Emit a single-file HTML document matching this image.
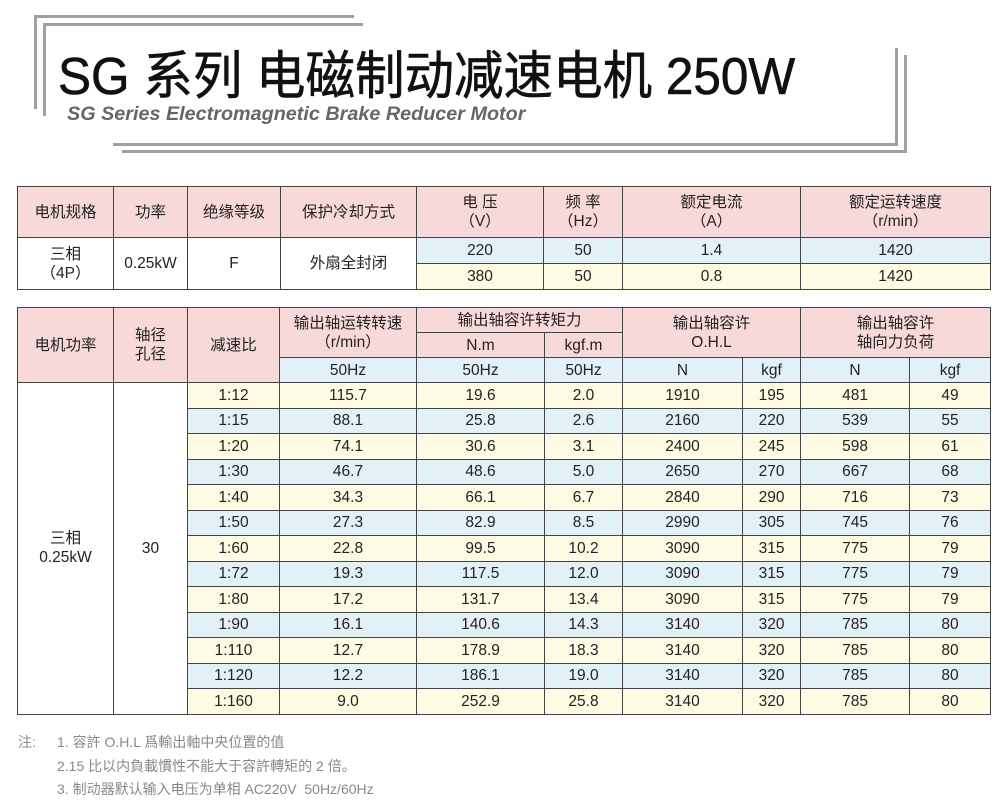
<!DOCTYPE html>
<html><head><meta charset="utf-8"><style>
body{margin:0;width:1003px;height:808px;background:#fff;position:relative;overflow:hidden;font-family:"Liberation Sans","Noto Sans CJK SC",sans-serif;color:#222}
.l{position:absolute;background:#a0a0a0}
.title{position:absolute;left:58px;top:34px;font-size:52px;font-weight:normal;color:#111;white-space:nowrap;-webkit-text-stroke:0.6px #111;transform:scaleX(0.952);transform-origin:0 0}
.sub{position:absolute;left:67px;top:103px;font-size:19.8px;font-weight:bold;font-style:italic;color:#666;white-space:nowrap}
table{position:absolute;left:17px;border-collapse:collapse;table-layout:fixed;font-size:15.5px}
td{border:1.5px solid #444;text-align:center;padding:0;line-height:19px}
.p{background:#f8d9d9}.b{background:#e1f1f7}.y{background:#fdfbe4}.w{background:#fff}
.note{position:absolute;font-size:14px;color:#888;white-space:nowrap}
</style></head><body>
<div class="l" style="left:34px;top:15px;width:320px;height:3px"></div>
<div class="l" style="left:34px;top:15px;width:3px;height:94px"></div>
<div class="l" style="left:43px;top:23px;width:320px;height:3px"></div>
<div class="l" style="left:43px;top:23px;width:3px;height:93px"></div>
<div class="l" style="left:113px;top:143px;width:785px;height:3px"></div>
<div class="l" style="left:895px;top:48px;width:3px;height:98px"></div>
<div class="l" style="left:122px;top:150px;width:785px;height:3px"></div>
<div class="l" style="left:904px;top:55px;width:3px;height:98px"></div>
<div class="title">SG 系列 电磁制动减速电机 250W</div>
<div class="sub">SG Series Electromagnetic Brake Reducer Motor</div>

<table style="top:186px;width:973px">
<colgroup><col style="width:96px"><col style="width:74px"><col style="width:93px"><col style="width:136px"><col style="width:127px"><col style="width:79px"><col style="width:178px"><col style="width:190px"></colgroup>
<tr style="height:51px" class="p"><td>电机规格</td><td>功率</td><td>绝缘等级</td><td>保护冷却方式</td><td>电 压<br>（V）</td><td>频 率<br>（Hz）</td><td>额定电流<br>（A）</td><td>额定运转速度<br>（r/min）</td></tr>
<tr style="height:26px"><td rowspan="2" class="w">三相<br>（4P）</td><td rowspan="2" class="w">0.25kW</td><td rowspan="2" class="w">F</td><td rowspan="2" class="w">外扇全封闭</td><td class="b">220</td><td class="b">50</td><td class="b">1.4</td><td class="b">1420</td></tr>
<tr style="height:26px" class="y"><td>380</td><td>50</td><td>0.8</td><td>1420</td></tr>
</table>

<table style="top:307px;width:973px">
<colgroup><col style="width:96px"><col style="width:74px"><col style="width:92px"><col style="width:137px"><col style="width:128px"><col style="width:78px"><col style="width:120px"><col style="width:58px"><col style="width:109px"><col style="width:81px"></colgroup>
<tr style="height:25px" class="p"><td rowspan="3">电机功率</td><td rowspan="3">轴径<br>孔径</td><td rowspan="3">减速比</td><td rowspan="2">输出轴运转转速<br>（r/min）</td><td colspan="2">输出轴容许转矩力</td><td colspan="2" rowspan="2">输出轴容许<br>O.H.L</td><td colspan="2" rowspan="2">输出轴容许<br>轴向力负荷</td></tr>
<tr style="height:25px" class="p"><td>N.m</td><td>kgf.m</td></tr>
<tr style="height:25px"><td class="b">50Hz</td><td class="b">50Hz</td><td class="b">50Hz</td><td class="b">N</td><td class="b">kgf</td><td class="b">N</td><td class="b">kgf</td></tr>
<tr class="y" style="height:25.5px"><td rowspan="13" class="w">三相<br>0.25kW</td><td rowspan="13" class="w">30</td><td>1:12</td><td>115.7</td><td>19.6</td><td>2.0</td><td>1910</td><td>195</td><td>481</td><td>49</td></tr>
<tr class="b" style="height:25.5px"><td>1:15</td><td>88.1</td><td>25.8</td><td>2.6</td><td>2160</td><td>220</td><td>539</td><td>55</td></tr>
<tr class="y" style="height:25.5px"><td>1:20</td><td>74.1</td><td>30.6</td><td>3.1</td><td>2400</td><td>245</td><td>598</td><td>61</td></tr>
<tr class="b" style="height:25.5px"><td>1:30</td><td>46.7</td><td>48.6</td><td>5.0</td><td>2650</td><td>270</td><td>667</td><td>68</td></tr>
<tr class="y" style="height:25.5px"><td>1:40</td><td>34.3</td><td>66.1</td><td>6.7</td><td>2840</td><td>290</td><td>716</td><td>73</td></tr>
<tr class="b" style="height:25.5px"><td>1:50</td><td>27.3</td><td>82.9</td><td>8.5</td><td>2990</td><td>305</td><td>745</td><td>76</td></tr>
<tr class="y" style="height:25.5px"><td>1:60</td><td>22.8</td><td>99.5</td><td>10.2</td><td>3090</td><td>315</td><td>775</td><td>79</td></tr>
<tr class="b" style="height:25.5px"><td>1:72</td><td>19.3</td><td>117.5</td><td>12.0</td><td>3090</td><td>315</td><td>775</td><td>79</td></tr>
<tr class="y" style="height:25.5px"><td>1:80</td><td>17.2</td><td>131.7</td><td>13.4</td><td>3090</td><td>315</td><td>775</td><td>79</td></tr>
<tr class="b" style="height:25.5px"><td>1:90</td><td>16.1</td><td>140.6</td><td>14.3</td><td>3140</td><td>320</td><td>785</td><td>80</td></tr>
<tr class="y" style="height:25.5px"><td>1:110</td><td>12.7</td><td>178.9</td><td>18.3</td><td>3140</td><td>320</td><td>785</td><td>80</td></tr>
<tr class="b" style="height:25.5px"><td>1:120</td><td>12.2</td><td>186.1</td><td>19.0</td><td>3140</td><td>320</td><td>785</td><td>80</td></tr>
<tr class="y" style="height:25.5px"><td>1:160</td><td>9.0</td><td>252.9</td><td>25.8</td><td>3140</td><td>320</td><td>785</td><td>80</td></tr>
</table>

<div class="note" style="left:18px;top:732px">注:</div>
<div class="note" style="left:57px;top:732px">1. 容許 O.H.L 爲輸出軸中央位置的值</div>
<div class="note" style="left:57px;top:756px">2.15 比以内負載慣性不能大于容許轉矩的 2 倍。</div>
<div class="note" style="left:57px;top:779px">3. 制动器默认输入电压为单相 AC220V&nbsp; 50Hz/60Hz</div>
</body></html>
